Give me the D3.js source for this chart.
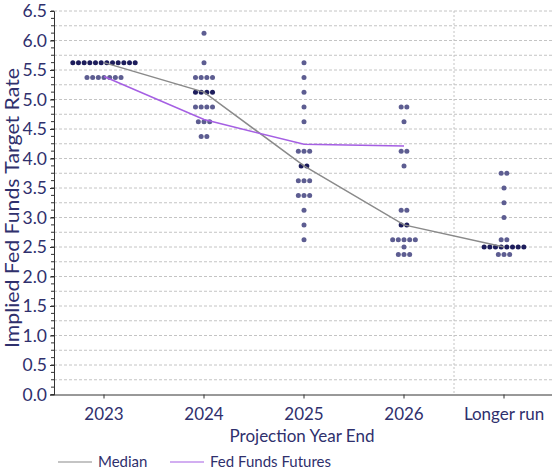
<!DOCTYPE html>
<html><head><meta charset="utf-8">
<script src="https://cdn.jsdelivr.net/npm/d3@7"></script>
<style>body{margin:0;background:#fff}svg{display:block}text{font-family:Lato,"Noto Sans",sans-serif}</style>
</head><body><svg id="c" width="552" height="474"></svg>
<script>
const categories = ["2023", "2024", "2025", "2026", "Longer run"];
const dotRates2023 = [5.625, 5.375];
const dotCounts2023 = [12, 7];
const dotRates2024 = [6.125, 5.625, 5.375, 5.125, 4.875, 4.625, 4.375];
const dotCounts2024 = [1, 1, 4, 4, 4, 3, 2];
const dotRates2025 = [5.625, 5.375, 5.125, 4.875, 4.625, 4.125, 3.875, 3.625, 3.375, 3.125, 2.875, 2.625];
const dotCounts2025 = [1, 1, 1, 1, 1, 3, 2, 3, 3, 1, 1, 1];
const dotRates2026 = [4.875, 4.625, 4.125, 3.875, 3.125, 2.875, 2.625, 2.5, 2.375];
const dotCounts2026 = [2, 1, 2, 1, 2, 2, 5, 1, 3];
const dotRatesLR = [3.75, 3.5, 3.25, 3.0, 2.625, 2.5, 2.375];
const dotCountsLR = [2, 1, 1, 1, 2, 8, 3];
const medianValues = [5.625, 5.125, 3.875, 2.875, 2.5];
const futuresValues = [5.39, 4.66, 4.24, 4.21];
const yTickLabels = ["0.0","0.5","1.0","1.5","2.0","2.5","3.0","3.5","4.0","4.5","5.0","5.5","6.0","6.5"];

const dotRates = [dotRates2023, dotRates2024, dotRates2025, dotRates2026, dotRatesLR];
const dotCounts = [dotCounts2023, dotCounts2024, dotCounts2025, dotCounts2026, dotCountsLR];

const svg = d3.select("#c");
const textColor = "#2f306d";
const L = 54, R = 554, T = 11, B = 394.5;
const x = d3.scaleBand().domain(categories).range([L, R]).padding(0);
const cx = c => x(c) + x.bandwidth() / 2;
const y = d3.scaleLinear().domain([0, 6.5]).range([B, T]);

// gridlines every 0.25
const gridVals = d3.range(0, 26).map(i => (i + 1) * 0.25);
svg.append("g").selectAll("line").data(gridVals).join("line")
  .attr("x1", L).attr("x2", 552).attr("y1", d => y(d)).attr("y2", d => y(d))
  .attr("stroke", "#c4c4c4").attr("stroke-width", 1).attr("stroke-dasharray", "3,2");
// separator before Longer run
svg.append("line").attr("x1", x("Longer run")).attr("x2", x("Longer run"))
  .attr("y1", T).attr("y2", B).attr("stroke", "#c4c4c4").attr("stroke-dasharray", "2,2");

// dots
const spacing = 5.67;
categories.forEach((c, ci) => {
  const pts = [];
  dotRates[ci].forEach((r, ri) => {
    const n = dotCounts[ci][ri];
    for (let k = 0; k < n; k++) pts.push({r, off: (k - (n - 1) / 2) * spacing, med: r === medianValues[ci]});
  });
  svg.append("g").selectAll("circle").data(pts).join("circle")
    .attr("cx", d => cx(c) + d.off).attr("cy", d => y(d.r)).attr("r", 2.5)
    .attr("fill", d => d.med ? "#1d1d5c" : "#5d5d91");
});

// lines
const line = d3.line().x(d => cx(d.c)).y(d => y(d.v));
svg.append("path").datum(medianValues.map((v, i) => ({c: categories[i], v})))
  .attr("d", line).attr("fill", "none").attr("stroke", "#8a8a8a").attr("stroke-width", 1.5);
svg.append("path").datum(futuresValues.map((v, i) => ({c: categories[i], v})))
  .attr("d", line).attr("fill", "none").attr("stroke", "#a55fe3").attr("stroke-width", 1.5);

// y axis
const yAxisG = svg.append("g").attr("transform", `translate(${L},0)`);
const minor = d3.range(0, 53).map(i => i * 0.125);
yAxisG.selectAll("line.minor").data(minor).join("line").attr("class", "minor")
  .attr("x1", -3).attr("x2", 0).attr("y1", d => y(d)).attr("y2", d => y(d))
  .attr("stroke", "#333").attr("stroke-width", 1);
const yAxis = d3.axisLeft(y).tickValues(yTickLabels.map(Number)).tickFormat((d, i) => yTickLabels[i]).tickSize(4).tickPadding(3);
yAxisG.call(yAxis);
yAxisG.select(".domain").attr("stroke", "#333");
yAxisG.selectAll(".tick line").attr("stroke", "#333");
yAxisG.selectAll(".tick text").attr("fill", textColor).style("font-size", "17.5px").style("font-family", "Lato, sans-serif");

// x axis
const xAxisG = svg.append("g").attr("transform", `translate(0,${B})`);
xAxisG.call(d3.axisBottom(x).tickSize(4).tickSizeOuter(0).tickPadding(9));
xAxisG.select(".domain").attr("stroke", "#333").attr("d", `M${L},0.5H552`);
xAxisG.selectAll(".tick line").attr("stroke", "#333");
xAxisG.selectAll(".tick text").attr("fill", textColor).style("font-size", "17px").style("font-family", "Lato, sans-serif");

// titles
svg.append("text").attr("x", 302).attr("y", 442).attr("text-anchor", "middle")
  .attr("fill", textColor).style("font-size", "17px").text("Projection Year End");
svg.append("text").attr("transform", "translate(19,208) rotate(-90)").attr("text-anchor", "middle")
  .attr("fill", textColor).style("font-size", "19px")
  .attr("textLength", 280).attr("lengthAdjust", "spacingAndGlyphs")
  .text("Implied Fed Funds Target Rate");

// legend
const legend = [{name: "Median", color: "#8a8a8a", x: 58}, {name: "Fed Funds Futures", color: "#a55fe3", x: 170}];
const lg = svg.append("g").selectAll("g").data(legend).join("g").attr("transform", d => `translate(${d.x},462)`);
lg.append("line").attr("x1", 0).attr("x2", 34).attr("stroke", d => d.color).attr("stroke-width", 1.2);
lg.append("text").attr("x", 40).attr("y", 5).attr("fill", textColor).style("font-size", "15px").text(d => d.name);
</script></body></html>
